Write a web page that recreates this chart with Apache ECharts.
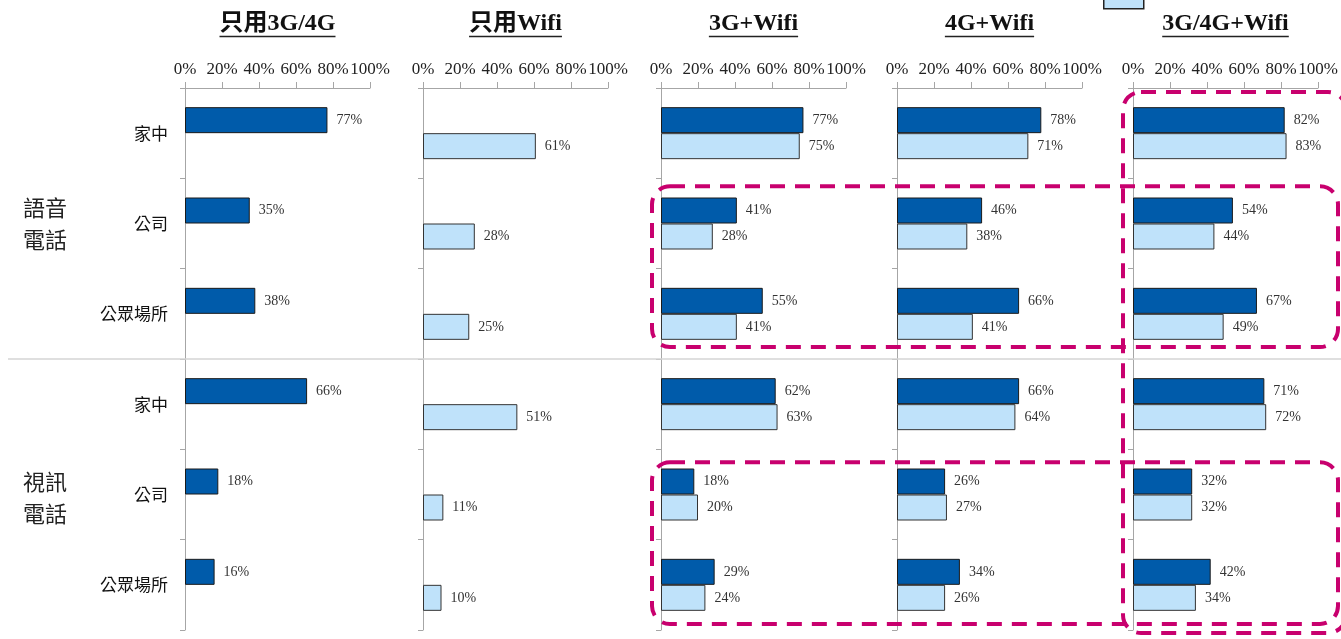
<!DOCTYPE html>
<html><head><meta charset="utf-8">
<script src="https://cdn.jsdelivr.net/npm/echarts@6/dist/echarts.min.js"></script>
<style>html,body{margin:0;padding:0;background:#fff}#c{width:1341px;height:639px}</style>
</head><body><div id="c"></div>
<script>
// ---------- data ----------
const panelTitles = ['只用3G/4G', '只用Wifi', '3G+Wifi', '4G+Wifi', '3G/4G+Wifi'];
const places = ['家中', '公司', '公眾場所', '家中', '公司', '公眾場所'];
const groups = ['語音\n電話', '視訊\n電話'];
const seriesNames = ['3G/4G', 'Wifi'];
// rows: 語音(家中,公司,公眾場所), 視訊(家中,公司,公眾場所)
const only3G4G_mobile = [77, 35, 38, 66, 18, 16];
const only3G4G_wifi   = [null, null, null, null, null, null];
const onlyWifi_mobile = [null, null, null, null, null, null];
const onlyWifi_wifi   = [61, 28, 25, 51, 11, 10];
const g3Wifi_mobile   = [77, 41, 55, 62, 18, 29];
const g3Wifi_wifi     = [75, 28, 41, 63, 20, 24];
const g4Wifi_mobile   = [78, 46, 66, 66, 26, 34];
const g4Wifi_wifi     = [71, 38, 41, 64, 27, 26];
const g34Wifi_mobile  = [82, 54, 67, 71, 32, 42];
const g34Wifi_wifi    = [83, 44, 49, 72, 32, 34];
const xTicks = [0, 20, 40, 60, 80, 100];

const panelMobile = [only3G4G_mobile, onlyWifi_mobile, g3Wifi_mobile, g4Wifi_mobile, g34Wifi_mobile];
const panelWifi = [only3G4G_wifi, onlyWifi_wifi, g3Wifi_wifi, g4Wifi_wifi, g34Wifi_wifi];

// ---------- layout / style ----------
const GRID_LEFTS = [185, 423, 661, 897, 1133];
const GRID_W = 185, GRID_TOP = 88, GRID_H = 542;
const BAND = GRID_H / places.length;
const DARK = '#005BAA', LIGHT = '#BFE2FA', AXIS = '#a6a6a6', PINK = '#C8006E';
const SERIF = '"Liberation Serif", "Times New Roman", "Noto Sans CJK TC", serif';
const CJK = '"Noto Sans CJK TC", sans-serif';

const chart = echarts.init(document.getElementById('c'), null, {renderer: 'canvas'});

const grids = [], xAxes = [], yAxes = [], series = [];
GRID_LEFTS.forEach((left, i) => {
  grids.push({left: left, top: GRID_TOP, width: GRID_W, height: GRID_H, containLabel: false});
  xAxes.push({
    gridIndex: i, type: 'value', position: 'top', min: xTicks[0], max: xTicks[xTicks.length - 1],
    interval: xTicks[1] - xTicks[0],
    axisLine: {show: true, lineStyle: {color: AXIS, width: 1}},
    axisTick: {show: true, length: 6, lineStyle: {color: AXIS}},
    splitLine: {show: false},
    axisLabel: {formatter: '{value}%', fontFamily: SERIF, fontSize: 17, color: '#222', margin: 10, hideOverlap: false,
      showMinLabel: true, showMaxLabel: true}
  });
  yAxes.push({
    gridIndex: i, type: 'category', inverse: true, data: places,
    axisLine: {show: true, lineStyle: {color: AXIS, width: 1}},
    axisTick: {show: true, length: 5, lineStyle: {color: AXIS}},
    axisLabel: {show: i === 0, fontFamily: CJK, fontSize: 17, color: '#111', margin: 17}
  });
  const labelCfg = {show: true, position: 'right', distance: 9, formatter: '{c}%',
    fontFamily: SERIF, fontSize: 14, color: '#333'};
  series.push({
    name: seriesNames[0], type: 'bar', xAxisIndex: i, yAxisIndex: i, data: panelMobile[i],
    barWidth: 26, barGap: '0%',
    itemStyle: {color: DARK, borderColor: '#1a1a1a', borderWidth: 1},
    label: labelCfg
  });
  series.push({
    name: seriesNames[1], type: 'bar', xAxisIndex: i, yAxisIndex: i, data: panelWifi[i],
    barWidth: 26, barGap: '0%',
    itemStyle: {color: LIGHT, borderColor: '#333', borderWidth: 1},
    label: labelCfg
  });
});
// group labels (語音電話 / 視訊電話)
yAxes.push({
  gridIndex: 0, type: 'category', inverse: true, data: groups, position: 'left', offset: 0,
  axisLine: {show: false}, axisTick: {show: false},
  axisLabel: {fontFamily: CJK, fontSize: 22, lineHeight: 32, color: '#222', margin: 118,
    formatter: (v, idx) => idx === 1 ? '{v|' + v.replace('\n', '}\n{v|') + '}' : v,
    rich: {v: {fontFamily: CJK, fontSize: 22, lineHeight: 32, color: '#222', padding: [7, 0, 0, 0]}}}
});

// ---------- decorations ----------
const meas = document.createElement('canvas').getContext('2d');
const TITLE_FONT = 'bold 24px ' + SERIF;
meas.font = TITLE_FONT;
const graphics = [];
// separator between the two groups
graphics.push({type: 'line', z: 1, shape: {x1: 8, y1: GRID_TOP + GRID_H / 2, x2: 1341, y2: GRID_TOP + GRID_H / 2},
  style: {stroke: '#d4d4d4', lineWidth: 1.5}});
panelTitles.forEach((t, i) => {
  const cx = GRID_LEFTS[i] + GRID_W / 2;
  const w = meas.measureText(t).width;
  graphics.push({type: 'text', x: cx, y: 24, style: {text: t, font: TITLE_FONT, fill: '#111',
    textAlign: 'center', textVerticalAlign: 'middle'}});
  graphics.push({type: 'line', shape: {x1: cx - w / 2, y1: 36.5, x2: cx + w / 2, y2: 36.5},
    style: {stroke: '#222', lineWidth: 1.5}});
});
const dashStyle = {fill: 'none', stroke: PINK, lineWidth: 4, lineDash: [15, 10]};
function box(x1, y1, x2, y2) {
  graphics.push({type: 'rect', z: 20, shape: {x: x1, y: y1, width: x2 - x1, height: y2 - y1, r: 18}, style: dashStyle});
}
const RIGHT = GRID_LEFTS[4] + GRID_W + 20;
box(GRID_LEFTS[2] - 9, GRID_TOP + BAND + 8, RIGHT, GRID_TOP + 3 * BAND - 12);
box(GRID_LEFTS[2] - 9, GRID_TOP + 4 * BAND + 13, RIGHT, GRID_TOP + 6 * BAND - 6);
box(GRID_LEFTS[4] - 10, GRID_TOP + 4, RIGHT + 8, GRID_TOP + GRID_H + 3);

chart.setOption({
  animation: false,
  backgroundColor: '#fff',
  legend: {data: [seriesNames[1]], left: 1103, top: -12, padding: 0, itemWidth: 40, itemHeight: 20,
    icon: 'rect', formatter: () => '', selectedMode: false,
    itemStyle: {color: LIGHT, borderColor: '#222', borderWidth: 1.5}},
  grid: grids, xAxis: xAxes, yAxis: yAxes, series: series, graphic: graphics
});
</script></body></html>
